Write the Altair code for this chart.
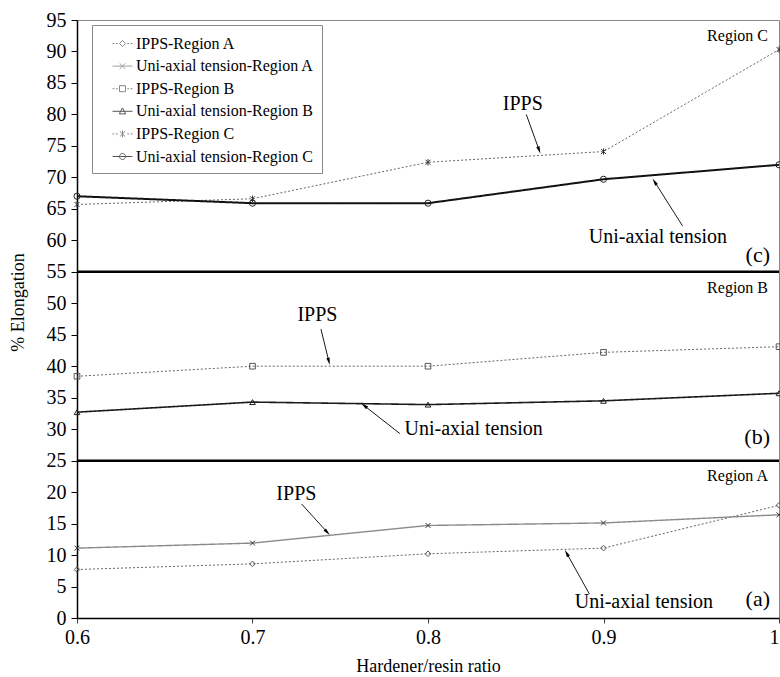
import math

import altair as alt
import pandas as pd

# ---- data -----------------------------------------------------------------
ratio = [0.6, 0.7, 0.8, 0.9, 1.0]

series_names = [
    "IPPS-Region A",
    "Uni-axial tension-Region A",
    "IPPS-Region B",
    "Uni-axial tension-Region B",
    "IPPS-Region C",
    "Uni-axial tension-Region C",
]
ipps_a = [7.7, 8.6, 10.2, 11.1, 17.9]
uni_a = [11.1, 11.9, 14.7, 15.1, 16.4]
ipps_b = [38.4, 40.0, 40.0, 42.2, 43.1]
uni_b = [32.7, 34.3, 33.9, 34.5, 35.7]
ipps_c = [65.7, 66.6, 72.4, 74.1, 90.3]
uni_c = [67.0, 65.9, 65.9, 69.7, 72.0]
series_values = [ipps_a, uni_a, ipps_b, uni_b, ipps_c, uni_c]

# region separators and labels
separator_y = [25, 55]
region_labels = ["Region A", "Region B", "Region C"]
region_label_y = [22.6, 52.4, 92.5]
panel_tags = ["(a)", "(b)", "(c)"]
panel_tag_y = [3.0, 28.7, 57.6]

# annotation texts with their arrows (start -> tip)
ann_text = ["IPPS", "Uni-axial tension", "IPPS", "Uni-axial tension", "IPPS", "Uni-axial tension"]
ann_x = [0.725, 0.923, 0.737, 0.826, 0.854, 0.931]
ann_y = [19.7, 2.5, 48.1, 30.0, 81.6, 60.5]
arrow_x0 = [0.728, 0.892, 0.739, 0.784, 0.856, 0.945]
arrow_y0 = [18.1, 3.8, 45.9, 29.3, 80.0, 62.3]
arrow_x1 = [0.744, 0.878, 0.744, 0.762, 0.864, 0.928]
arrow_y1 = [13.2, 10.8, 40.2, 34.1, 73.8, 69.8]

# ---- styles ---------------------------------------------------------------
FONT = "Times New Roman, Liberation Serif, Times, serif"
W, H = 702, 598
X_DOMAIN = [0.6, 1.0]
Y_DOMAIN = [0, 95]

marker_paths = [
    "diamond",
    "M-1,-1L1,1M-1,1L1,-1",
    "square",
    "triangle-up",
    "M-1,-1L1,1M-1,1L1,-1M0,-1.3V1.3",
    "circle",
]
marker_sizes = [32, 24, 32, 32, 24, 38]
line_dash = [[2, 2], [1, 0], [2, 2], [1, 0], [2, 2], [1, 0]]
line_color = ["#666666", "#8a8a8a", "#666666", "#1a1a1a", "#666666", "#111111"]
line_width = [1.0, 1.4, 1.0, 1.6, 1.0, 2.0]
marker_color = ["#555555", "#333333", "#555555", "#222222", "#333333", "#222222"]

dotted_stubs = "M-1,0H-0.82M-0.66,0H-0.48M0.48,0H0.66M0.82,0H1"
solid_line = "M-1,0H1"
legend_paths = [
    dotted_stubs + "M0,-0.3L0.3,0L0,0.3L-0.3,0Z",
    solid_line + "M-0.28,-0.28L0.28,0.28M-0.28,0.28L0.28,-0.28",
    dotted_stubs + "M-0.3,-0.3H0.3V0.3H-0.3Z",
    solid_line + "M0,-0.34L0.32,0.26H-0.32Z",
    dotted_stubs + "M-0.26,-0.26L0.26,0.26M-0.26,0.26L0.26,-0.26M0,-0.34V0.34",
    solid_line + "M-0.3,0A0.3,0.3 0 1,0 0.3,0A0.3,0.3 0 1,0 -0.3,0",
]
legend_colors = ["#555555", "#777777", "#555555", "#111111", "#555555", "#111111"]

rows = []
for name, vals in zip(series_names, series_values):
    for r, v in zip(ratio, vals):
        rows.append({"series": name, "ratio": r, "elong": v})
df = pd.DataFrame(rows)

x_scale = alt.Scale(domain=X_DOMAIN, nice=False, zero=False)
y_scale = alt.Scale(domain=Y_DOMAIN, nice=False, zero=True)

x_axis = alt.Axis(
    values=ratio, format="~g", grid=False, labelFlush=False,
    labelAlign={"expr": "datum.value >= 1 ? 'right' : 'center'"},
    labelFont=FONT, labelFontSize=20, labelColor="black", labelPadding=4,
    tickSize=5, tickColor="#444444", domainColor="black", domainWidth=1.5,
    titleFont=FONT, titleFontSize=18, titleFontWeight="normal", titleColor="black",
    titleY=48, titleBaseline="middle",
)
y_axis = alt.Axis(
    values=list(range(0, 100, 5)), grid=False, labelFlush=False,
    labelFont=FONT, labelFontSize=20, labelColor="black", labelPadding=5,
    tickSize=6, tickColor="black", domainColor="black", domainWidth=1.5,
    titleFont=FONT, titleFontSize=18, titleFontWeight="normal", titleColor="black",
    titleAngle=270, titleX=-59, titleY=282, titleAlign="center", titleBaseline="middle",
)


def xenc(field):
    return alt.X(f"{field}:Q", scale=x_scale, axis=x_axis, title="Hardener/resin ratio")


def yenc(field):
    return alt.Y(f"{field}:Q", scale=y_scale, axis=y_axis, title="% Elongation")


layers = []

# thick separators between the three regions
sep_df = pd.DataFrame({"y": separator_y})
layers.append(
    alt.Chart(sep_df).mark_rule(color="black", strokeWidth=2.5).encode(y=yenc("y"))
)

# series lines and markers
for i, name in enumerate(series_names):
    sub = df[df["series"] == name]
    base = alt.Chart(sub).encode(x=xenc("ratio"), y=yenc("elong"))
    layers.append(
        base.mark_line(
            color=line_color[i], strokeWidth=line_width[i], strokeDash=line_dash[i]
        )
    )
    layers.append(
        base.mark_point(
            shape=marker_paths[i], size=marker_sizes[i], filled=False,
            color=marker_color[i], strokeWidth=1, opacity=1,
        )
    )

# annotation arrows
PX_X = W / (X_DOMAIN[1] - X_DOMAIN[0])
PX_Y = H / (Y_DOMAIN[1] - Y_DOMAIN[0])
HEAD = 3.6
arr_rows = []
for x0, y0, x1, y1 in zip(arrow_x0, arrow_y0, arrow_x1, arrow_y1):
    dxp = (x1 - x0) * PX_X
    dyp = -(y1 - y0) * PX_Y
    length = math.hypot(dxp, dyp)
    ux, uy = dxp / length, dyp / length
    ang = math.degrees(math.atan2(dxp, -dyp)) % 360
    hx = x1 - ux * HEAD / PX_X
    hy = y1 + uy * HEAD / PX_Y
    arr_rows.append({"x0": x0, "y0": y0, "x1": hx, "y1": hy, "hx": hx, "hy": hy, "ang": ang})
arr_df = pd.DataFrame(arr_rows)

layers.append(
    alt.Chart(arr_df).mark_rule(color="black", strokeWidth=0.9).encode(
        x=xenc("x0"), y=yenc("y0"), x2="x1:Q", y2="y1:Q"
    )
)
layers.append(
    alt.Chart(arr_df).mark_point(
        shape="M0,-1L0.45,1L-0.45,1Z", size=55, filled=True, color="black", opacity=1
    ).encode(x=xenc("hx"), y=yenc("hy"), angle=alt.Angle("ang:Q", scale=None))
)

ann_df = pd.DataFrame({"t": ann_text, "x": ann_x, "y": ann_y})
layers.append(
    alt.Chart(ann_df).mark_text(
        font=FONT, fontSize=20, color="black", align="center", baseline="middle"
    ).encode(x=xenc("x"), y=yenc("y"), text="t:N")
)

# region names and panel tags at the right edge
reg_df = pd.DataFrame({"t": region_labels, "x": [1.0] * 3, "y": region_label_y})
layers.append(
    alt.Chart(reg_df).mark_text(
        font=FONT, fontSize=16, color="black", align="right", baseline="middle", dx=-11
    ).encode(x=xenc("x"), y=yenc("y"), text="t:N")
)
tag_df = pd.DataFrame({"t": panel_tags, "x": [1.0] * 3, "y": panel_tag_y})
layers.append(
    alt.Chart(tag_df).mark_text(
        font=FONT, fontSize=22, color="black", align="right", baseline="middle", dx=-9
    ).encode(x=xenc("x"), y=yenc("y"), text="t:N")
)

# legend built from the series domain (no visible data points)
leg = alt.Legend(
    orient="none", legendX=15, legendY=5, title=None,
    labelFont=FONT, labelFontSize=16, labelColor="black", labelOffset=3,
    symbolSize=400, symbolStrokeWidth=1, symbolOffset=12,
    padding=8, rowPadding=3.6, strokeColor="#888888", fillColor="white",
    labelLimit=400,
)
layers.append(
    alt.Chart(df).transform_filter("false").mark_point(filled=False, strokeWidth=1).encode(
        x=xenc("ratio"), y=yenc("elong"),
        shape=alt.Shape("series:N", scale=alt.Scale(domain=series_names, range=legend_paths), legend=leg),
        color=alt.Color("series:N", scale=alt.Scale(domain=series_names, range=legend_colors), legend=leg),
    )
)

chart = (
    alt.layer(*layers)
    .properties(
        width=W, height=H,
        autosize=alt.AutoSizeParams(type="none"),
        padding={"left": 77, "top": 20, "right": 1, "bottom": 59},
    )
    .configure_view(stroke="#888888", strokeWidth=1)
)

chart.save("out.html", embed_options={"renderer": "svg", "actions": False})
